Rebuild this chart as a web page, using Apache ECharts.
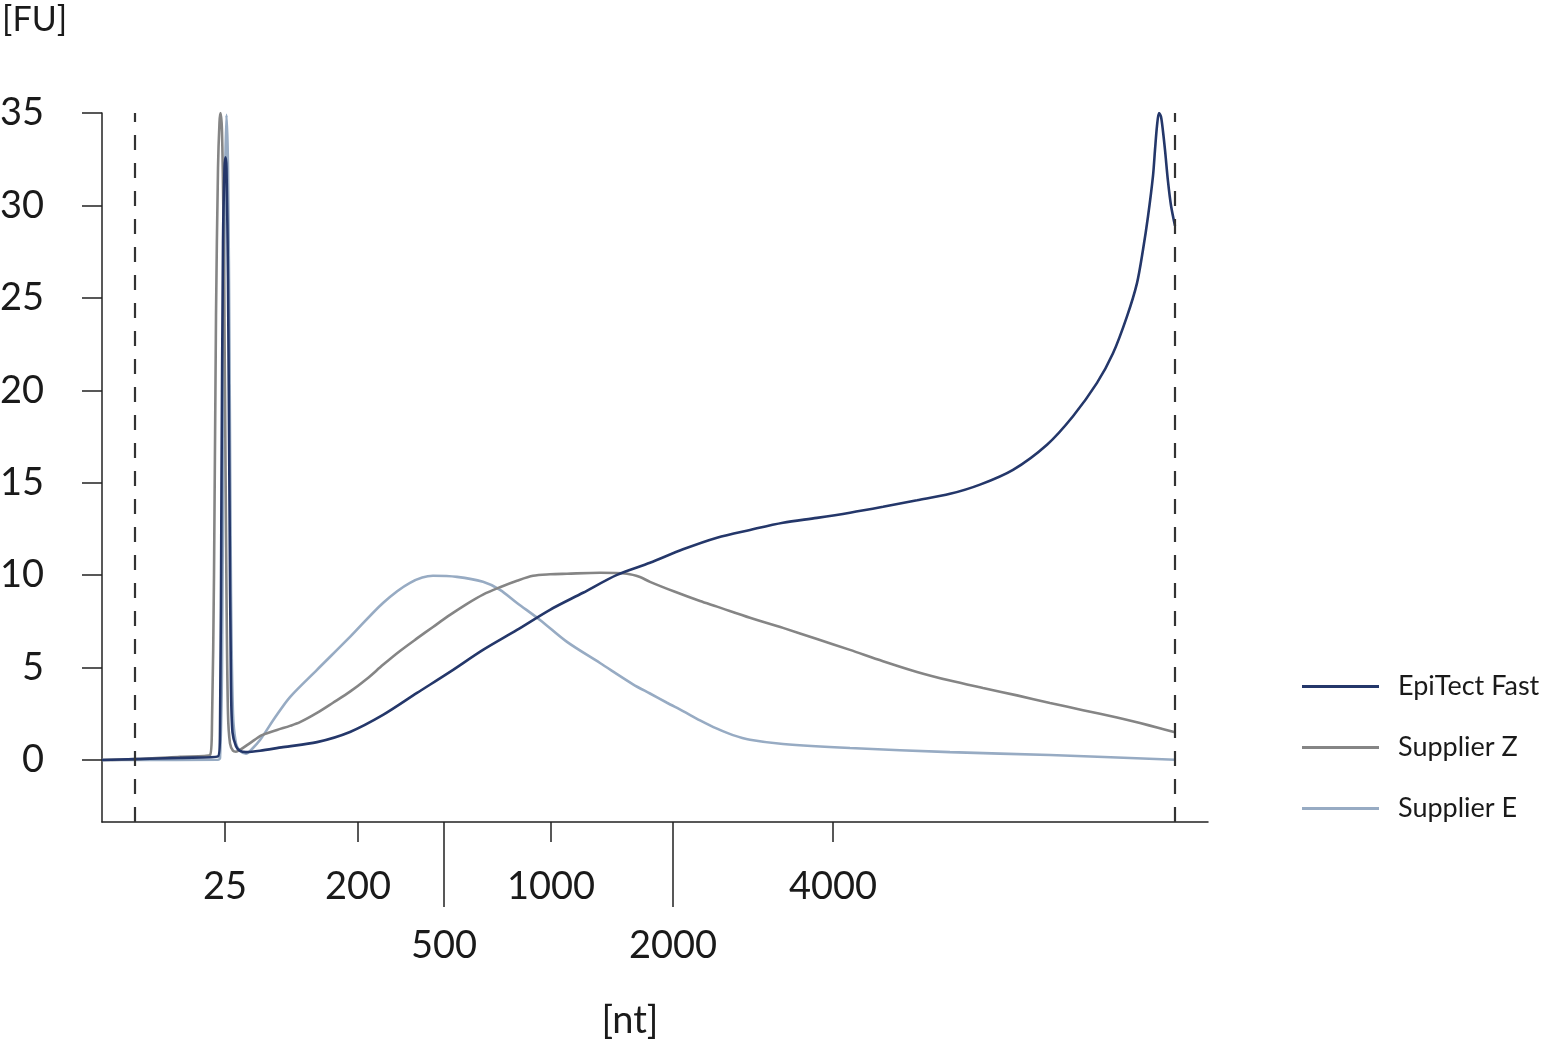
<!DOCTYPE html>
<html>
<head>
<meta charset="utf-8">
<title>Electropherogram</title>
<script src="https://cdn.jsdelivr.net/npm/echarts@6/dist/echarts.min.js"></script>
<style>
  html, body { margin: 0; padding: 0; background: #fff; }
  #chart { width: 1547px; height: 1060px; }
</style>
</head>
<body>
<div id="chart"></div>
<script>
// migration position (arbitrary units) vs fluorescence [FU]
var epitectFast = [
    [0, 0], [3.3, 0.05], [7.8, 0.12], [11.6, 0.2], [11.8, 1.5], [11.95, 15], [12.1, 28],
    [12.25, 32], [12.35, 32.6], [12.45, 32], [12.6, 26], [12.75, 14], [12.9, 4], [13.05, 1.5],
    [13.4, 0.75], [13.8, 0.5], [14.4, 0.43], [15.8, 0.5], [18.1, 0.7], [21.5, 0.97], [24.8, 1.52],
    [28.1, 2.44], [31.5, 3.63], [34.8, 4.77], [38.1, 5.96], [41.5, 7.04], [44.8, 8.13],
    [48.1, 9.05], [51.5, 10.02], [54.8, 10.67], [58.1, 11.4], [61.5, 12.03], [64.8, 12.45],
    [68.1, 12.84], [71.5, 13.1], [74.8, 13.38], [78.1, 13.7], [81.5, 14.05], [84.8, 14.4],
    [87.8, 14.9], [91.1, 15.7], [94.5, 17.06], [97.1, 18.6], [99.5, 20.4], [101.1, 22.0],
    [102.5, 24.0], [103.5, 25.8], [104.1, 27.6], [104.6, 29.4], [105.1, 31.6], [105.3, 33.0],
    [105.5, 34.3], [105.7, 35.0], [105.9, 34.8], [106.1, 34.0], [106.3, 33.0], [106.6, 31.3],
    [106.9, 30.0], [107.3, 28.9]
];
var supplierZ = [
    [0, 0], [3.3, 0.05], [7.8, 0.18], [10.8, 0.27], [11.0, 2], [11.2, 10], [11.4, 24],
    [11.6, 32], [11.75, 34.5], [11.85, 35.0], [12.0, 34], [12.15, 29], [12.3, 20], [12.45, 9],
    [12.6, 2.5], [12.8, 0.9], [13.1, 0.5], [13.4, 0.45], [13.8, 0.55], [14.8, 0.92],
    [16.0, 1.35], [17.5, 1.63], [18.8, 1.85], [19.8, 2.05], [21.5, 2.55], [23.1, 3.1],
    [24.8, 3.7], [26.5, 4.4], [28.1, 5.15], [29.8, 5.9], [31.5, 6.58], [33.1, 7.2], [34.8, 7.85],
    [36.5, 8.45], [38.1, 8.95], [39.8, 9.35], [41.5, 9.7], [43.1, 9.97], [44.8, 10.05],
    [46.5, 10.08], [49.8, 10.13], [52.5, 10.08], [53.8, 9.9], [54.8, 9.64], [57.3, 9.1],
    [59.8, 8.6], [61.5, 8.3], [64.8, 7.7], [68.1, 7.15], [71.5, 6.55], [74.8, 5.96],
    [78.1, 5.35], [81.5, 4.77], [84.8, 4.3], [88.1, 3.9], [91.5, 3.5], [94.8, 3.09],
    [98.1, 2.7], [101.5, 2.3], [103.8, 2.0], [105.6, 1.75], [107.3, 1.5]
];
var supplierE = [
    [0, 0], [3.3, 0], [11.6, 0.02], [11.8, 0.1], [12.0, 5], [12.15, 20], [12.3, 31],
    [12.45, 34.9], [12.6, 32], [12.75, 22], [12.9, 9], [13.1, 2.5], [13.4, 0.9], [13.8, 0.5],
    [14.4, 0.35], [15.0, 0.6], [15.8, 1.08], [17.3, 2.3], [18.8, 3.41], [21.5, 4.88],
    [24.8, 6.66], [28.1, 8.5], [30.8, 9.59], [33.1, 9.97], [35.5, 9.91], [38.1, 9.64],
    [39.8, 9.21], [41.5, 8.5], [43.8, 7.58], [46.5, 6.39], [49.8, 5.25], [53.1, 4.1],
    [54.8, 3.6], [56.5, 3.1], [58.1, 2.65], [59.8, 2.15], [61.5, 1.7], [63.1, 1.35],
    [64.8, 1.1], [68.1, 0.87], [74.8, 0.65], [84.8, 0.43], [94.8, 0.27], [107.3, 0.02]
];

// ladder ticks, short ones with labels close to the axis, long ones with labels below
var shortTickPos = [12.3, 25.6, 44.9, 73.1];
var shortTickLabels = ['25', '200', '1000', '4000'];
var longTickPos = [34.2, 57.1];
var longTickLabels = ['500', '2000'];
var yTicks = [0, 5, 10, 15, 20, 25, 30, 35];
// lower / upper marker positions
var markerPos = [3.3, 107.3];

var seriesNames = ['EpiTect Fast', 'Supplier Z', 'Supplier E'];
var seriesColors = ['#24376a', '#858585', '#97abc3'];

window.onload = function () {
    var dom = document.getElementById('chart');
    var myChart = echarts.init(dom);

    var font = 'Lato, "DejaVu Sans", sans-serif';
    var axisColor = '#222';

    function lineSeries(idx, data, z) {
        return {
            name: seriesNames[idx],
            type: 'line',
            data: data,
            showSymbol: false,
            symbol: 'none',
            smooth: 0.3,
            z: z,
            lineStyle: { color: seriesColors[idx], width: 2.6 },
            itemStyle: { color: seriesColors[idx] }
        };
    }

    var sE = lineSeries(2, supplierE, 2);
    var sZ = lineSeries(1, supplierZ, 3);
    var sF = lineSeries(0, epitectFast, 4);
    // dashed marker lines
    sE.markLine = {
        silent: true,
        symbol: 'none',
        label: { show: false },
        lineStyle: { color: '#333', type: [15, 13], width: 2.2 },
        data: markerPos.map(function (p) { return { xAxis: p }; })
    };

    var option = {
        animation: false,
        backgroundColor: '#fff',
        title: {
            text: '[FU]',
            left: 0,
            top: 0,
            padding: [3, 0, 0, 2],
            textStyle: { fontFamily: font, fontSize: 34, fontWeight: 'normal', color: '#1a1a1a' }
        },
        grid: { left: 102, right: 339, top: 113, bottom: 238, outerBoundsMode: 'none', containLabel: false },
        legend: {
            orient: 'vertical',
            left: 1297,
            top: 668,
            data: seriesNames,
            icon: 'rect',
            itemWidth: 77,
            itemHeight: 3,
            itemGap: 34,
            textStyle: { fontFamily: font, fontSize: 27, color: '#1a1a1a', padding: [0, 0, 0, 14] }
        },
        xAxis: [
            {
                type: 'value',
                min: 0,
                max: 110.6,
                position: 'bottom',
                name: '[nt]',
                nameLocation: 'middle',
                nameGap: 180,
                nameTextStyle: { fontFamily: font, fontSize: 38, color: '#1a1a1a', padding: [0, 50, 0, 0] },
                axisLine: { show: true, onZero: false, lineStyle: { color: axisColor, width: 1.5 } },
                axisTick: { show: true, customValues: shortTickPos, length: 20, lineStyle: { color: axisColor, width: 1.5 } },
                axisLabel: {
                    customValues: shortTickPos,
                    margin: 46,
                    fontFamily: font,
                    fontSize: 38,
                    color: '#1a1a1a',
                    formatter: function (v) { return shortTickLabels[shortTickPos.indexOf(v)]; }
                },
                splitLine: { show: false }
            },
            {
                type: 'value',
                min: 0,
                max: 110.6,
                position: 'bottom',
                axisLine: { show: false, onZero: false },
                axisTick: { show: true, customValues: longTickPos, length: 85, lineStyle: { color: axisColor, width: 1.5 } },
                axisLabel: {
                    customValues: longTickPos,
                    margin: 105,
                    fontFamily: font,
                    fontSize: 38,
                    color: '#1a1a1a',
                    formatter: function (v) { return longTickLabels[longTickPos.indexOf(v)]; }
                },
                splitLine: { show: false }
            }
        ],
        yAxis: {
            type: 'value',
            min: -3.35,
            max: 35,
            axisLine: { show: true, onZero: false, lineStyle: { color: axisColor, width: 1.5 } },
            axisTick: { show: true, customValues: yTicks, length: 20, lineStyle: { color: axisColor, width: 1.5 } },
            axisLabel: {
                customValues: yTicks,
                margin: 58,
                fontFamily: font,
                fontSize: 38,
                color: '#1a1a1a'
            },
            splitLine: { show: false }
        },
        series: [sE, sZ, sF]
    };

    if (option && typeof option === 'object') {
        myChart.setOption(option, true);
    }
};
</script>
</body>
</html>
